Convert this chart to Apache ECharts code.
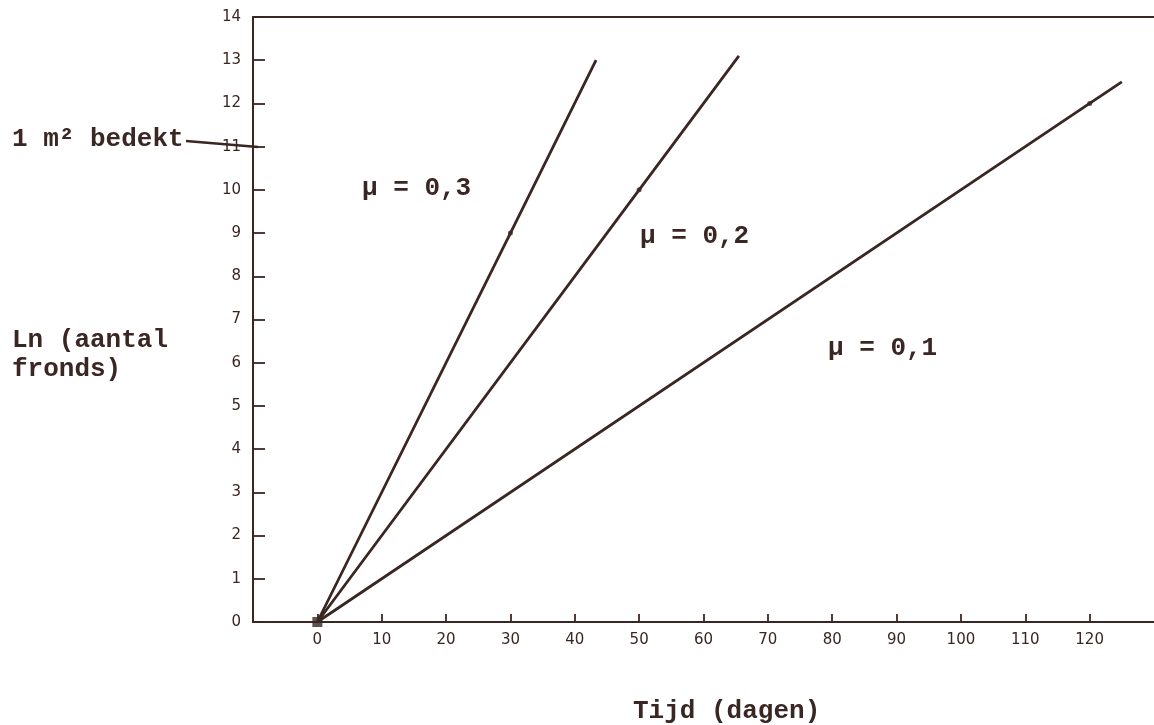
<!DOCTYPE html>
<html>
<head>
<meta charset="utf-8">
<script src="https://cdn.jsdelivr.net/npm/echarts@6/dist/echarts.min.js"></script>
<style>
  html, body { margin: 0; padding: 0; background: #ffffff; }
  #chart { width: 1154px; height: 725px; }
</style>
</head>
<body>
<div id="chart"></div>
<script>
// tick labels
var xTicks = [0, 10, 20, 30, 40, 50, 60, 70, 80, 90, 100, 110, 120]
var yTicks = [0, 1, 2, 3, 4, 5, 6, 7, 8, 9, 10, 11, 12, 13, 14]

// lines: start, marked point, end  (Tijd, Ln aantal fronds)
var mu03 = [[0, 0], [30, 9], [43.3, 13]]
var mu02 = [[0, 0], [50, 10], [65.5, 13.1]]
var mu01 = [[0, 0], [120, 12], [125, 12.5]]
var seriesNames = ['μ = 0,3', 'μ = 0,2', 'μ = 0,1']

var ink = '#3a2622'
var mono = '"Liberation Mono", "Courier New", monospace'
var textFont = 'bold 26px ' + mono

var myChart = echarts.init(document.getElementById('chart'))

function lineSeries(name, data) {
  return {
    name: name,
    type: 'line',
    data: data,
    symbol: 'none',
    animation: false,
    lineStyle: { color: ink, width: 2.8 }
  }
}

var markPoints = [mu03[1], mu02[1], mu01[1]]

myChart.setOption({
  backgroundColor: '#ffffff',
  animation: false,
  grid: { left: 253, top: 17, right: 0, bottom: 103 },
  xAxis: [{
    type: 'value',
    min: -10,
    max: 130,
    interval: 10,
    axisLine: { onZero: false, lineStyle: { color: ink, width: 2 } },
    axisTick: {
      inside: true,
      length: 8,
      customValues: xTicks,
      lineStyle: { color: ink, width: 1.8 }
    },
    axisLabel: {
      customValues: xTicks,
      color: ink,
      fontFamily: '"DejaVu Sans", sans-serif',
      fontSize: 15,
      margin: 11
    },
    splitLine: { show: false }
  }, {
    type: 'value',
    position: 'top',
    min: -10,
    max: 130,
    axisLine: { show: true, onZero: false, lineStyle: { color: ink, width: 2 } },
    axisTick: { show: false },
    axisLabel: { show: false },
    splitLine: { show: false }
  }],
  yAxis: {
    type: 'value',
    min: 0,
    max: 14,
    interval: 1,
    axisLine: { show: true, onZero: false, lineStyle: { color: ink, width: 2 } },
    axisTick: {
      show: true,
      inside: true,
      length: 12,
      customValues: yTicks,
      lineStyle: { color: ink, width: 1.8 }
    },
    axisLabel: {
      customValues: yTicks,
      color: ink,
      fontFamily: '"DejaVu Sans", sans-serif',
      fontSize: 15,
      margin: 12
    },
    splitLine: { show: false }
  },
  series: [
    lineSeries(seriesNames[0], mu03),
    lineSeries(seriesNames[1], mu02),
    lineSeries(seriesNames[2], mu01),
    {
      type: 'scatter',
      data: markPoints,
      symbol: 'circle',
      symbolSize: 5,
      itemStyle: { color: ink }
    },
    {
      type: 'scatter',
      data: [[0, 0]],
      symbol: 'rect',
      symbolSize: 10,
      itemStyle: { color: ink }
    }
  ],
  graphic: [
    { type: 'text', left: 12, top: 126, style: { text: '1 m² bedekt', font: textFont, fill: ink } },
    { type: 'line', shape: { x1: 186, y1: 141, x2: 258, y2: 147 }, style: { stroke: ink, lineWidth: 2.4 } },
    { type: 'text', left: 12, top: 326, style: { text: 'Ln (aantal\nfronds)', font: textFont, lineHeight: 29, fill: ink } },
    { type: 'text', left: 362, top: 175, style: { text: seriesNames[0], font: textFont, fill: ink } },
    { type: 'text', left: 640, top: 223, style: { text: seriesNames[1], font: textFont, fill: ink } },
    { type: 'text', left: 828, top: 335, style: { text: seriesNames[2], font: textFont, fill: ink } },
    { type: 'text', left: 633, top: 698, style: { text: 'Tijd (dagen)', font: textFont, fill: ink } }
  ]
})

window.addEventListener('resize', function () {
  myChart.resize()
})
</script>
</body>
</html>
